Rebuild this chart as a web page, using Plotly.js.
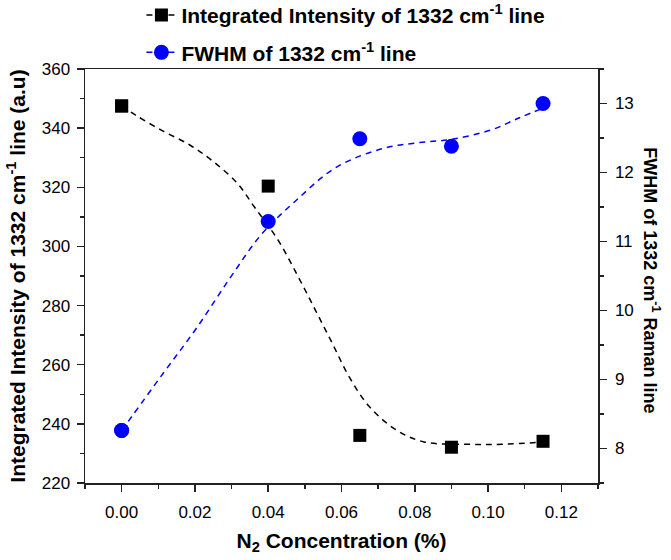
<!DOCTYPE html>
<html>
<head>
<meta charset="utf-8">
<script src="https://cdn.plot.ly/plotly-3.0.1.min.js"></script>
<style>html,body{margin:0;padding:0;background:#fff;}#chart{width:671px;height:560px;}</style>
</head>
<body>
<div id="chart"></div>
<script>
// Measured data points
const conc = [0, 0.04, 0.065, 0.09, 0.115];
const intensity = [347.5, 320.4, 236.1, 232.1, 234.1];
const fwhm = [8.26, 11.29, 12.49, 12.38, 13.0];

// Fitted (dashed) curves (each starts under the first data marker)
const intFitX = [0, 0.0038, 0.0107, 0.0186, 0.0251, 0.0316, 0.0362, 0.0427, 0.0482, 0.0529, 0.0575, 0.0621, 0.0677, 0.0751, 0.0825, 0.0945, 0.1038, 0.1158];
const intFitY = [347.5, 344.4, 339.4, 334.3, 328.6, 321.3, 313.4, 302.1, 289.7, 278.4, 267.2, 255.9, 245.7, 237.8, 233.9, 233.1, 233.1, 233.9];
const fwhmFitX = [0, 0.0112, 0.0205, 0.0297, 0.0381, 0.0473, 0.0584, 0.0714, 0.0806, 0.0899, 0.1010, 0.1084, 0.1149];
const fwhmFitY = [8.26, 9.08, 9.75, 10.48, 11.10, 11.58, 12.07, 12.35, 12.43, 12.48, 12.62, 12.79, 12.93];

const xTicks = [0, 0.02, 0.04, 0.06, 0.08, 0.10, 0.12];
const xTickText = ['0.00', '0.02', '0.04', '0.06', '0.08', '0.10', '0.12'];

const FONT = 'Liberation Sans, Arial, sans-serif';
const AX = '#222';

// legend shows the first symbol of the fit trace; other fit points use an invisible line symbol
function legendSymbols(n, first) {
  return Array.from({length: n}, (_, i) => i === 0 ? first : 'line-ew');
}

const traces = [
  {x: intFitX, y: intFitY, type: 'scatter', mode: 'lines+markers', yaxis: 'y',
   name: 'Integrated Intensity of 1332 cm<sup>-1</sup> line', legendgroup: 'a',
   line: {color: '#000', width: 1.5, dash: '6px,5px', shape: 'spline'},
   marker: {symbol: legendSymbols(intFitX.length, 'square'), size: 13, color: '#000', line: {width: 0}},
   hoverinfo: 'skip'},
  {x: conc, y: intensity, type: 'scatter', mode: 'markers', yaxis: 'y', showlegend: false,
   marker: {symbol: 'square', size: 13, color: '#000'}},
  {x: fwhmFitX, y: fwhmFitY, type: 'scatter', mode: 'lines+markers', yaxis: 'y2',
   name: 'FWHM of 1332 cm<sup>-1</sup> line', legendgroup: 'b',
   line: {color: '#0000ff', width: 1.5, dash: '6px,5px', shape: 'spline'},
   marker: {symbol: legendSymbols(fwhmFitX.length, 'circle'), size: 15, color: '#0000ff', line: {width: 0}},
   hoverinfo: 'skip'},
  {x: conc, y: fwhm, type: 'scatter', mode: 'markers', yaxis: 'y2', showlegend: false,
   marker: {symbol: 'circle', size: 15, color: '#0000ff'}}
];

const layout = {
  width: 671, height: 560,
  margin: {l: 85, r: 73, t: 69, b: 77, autoexpand: false},
  paper_bgcolor: '#fff', plot_bgcolor: '#fff',
  font: {family: FONT, color: '#000', size: 17},
  showlegend: true,
  legend: {x: 0.11, y: 1.179, xanchor: 'left', yanchor: 'top', bgcolor: 'rgba(0,0,0,0)',
           font: {family: FONT, size: 21, weight: 'bold', color: '#000'},
           itemsizing: 'trace', tracegroupgap: 7, traceorder: 'grouped'},
  xaxis: {range: [-0.01, 0.13], tickvals: xTicks, ticktext: xTickText,
          showline: true, linecolor: AX, linewidth: 1.5, mirror: true,
          ticks: 'outside', ticklen: 7, tickwidth: 1.5, tickcolor: AX,
          minor: {dtick: 0.01, ticks: 'outside', ticklen: 4, tickwidth: 1.5, tickcolor: AX, showgrid: false},
          showgrid: false, zeroline: false, ticklabelstandoff: 6,
          tickfont: {family: FONT, size: 17},
          title: {text: 'N<sub>2</sub> Concentration (%)', font: {family: FONT, size: 21, weight: 'bold'}, standoff: 12}},
  yaxis: {range: [220, 360], dtick: 20, tick0: 220,
          showline: true, linecolor: AX, linewidth: 1.5,
          ticks: 'outside', ticklen: 7, tickwidth: 1.5, tickcolor: AX,
          minor: {dtick: 10, ticks: 'outside', ticklen: 4, tickwidth: 1.5, tickcolor: AX, showgrid: false},
          showgrid: false, zeroline: false, ticklabelstandoff: 3,
          tickfont: {family: FONT, size: 17},
          title: {text: 'Integrated Intensity of 1332 cm<sup>-1</sup> line (a.u)', font: {family: FONT, size: 21, weight: 'bold'}, standoff: 10}},
  yaxis2: {range: [7.5, 13.5], dtick: 1, tick0: 8, overlaying: 'y', side: 'right',
          showline: true, linecolor: AX, linewidth: 1.5,
          ticks: 'outside', ticklen: 7, tickwidth: 1.5, tickcolor: AX,
          minor: {dtick: 0.5, ticks: 'outside', ticklen: 4, tickwidth: 1.5, tickcolor: AX, showgrid: false},
          showgrid: false, zeroline: false, ticklabelstandoff: 5,
          tickfont: {family: FONT, size: 17}},
  annotations: [{xref: 'paper', yref: 'paper', x: 1.105, y: 0.49, xanchor: 'center', yanchor: 'middle',
                 textangle: 90, showarrow: false,
                 text: 'FWHM of 1332 cm<sup>-1</sup> Raman line',
                 font: {family: FONT, size: 18, weight: 'bold', color: '#000'}}]
};

Plotly.newPlot('chart', traces, layout, {displayModeBar: false, staticPlot: true});
</script>
</body>
</html>
